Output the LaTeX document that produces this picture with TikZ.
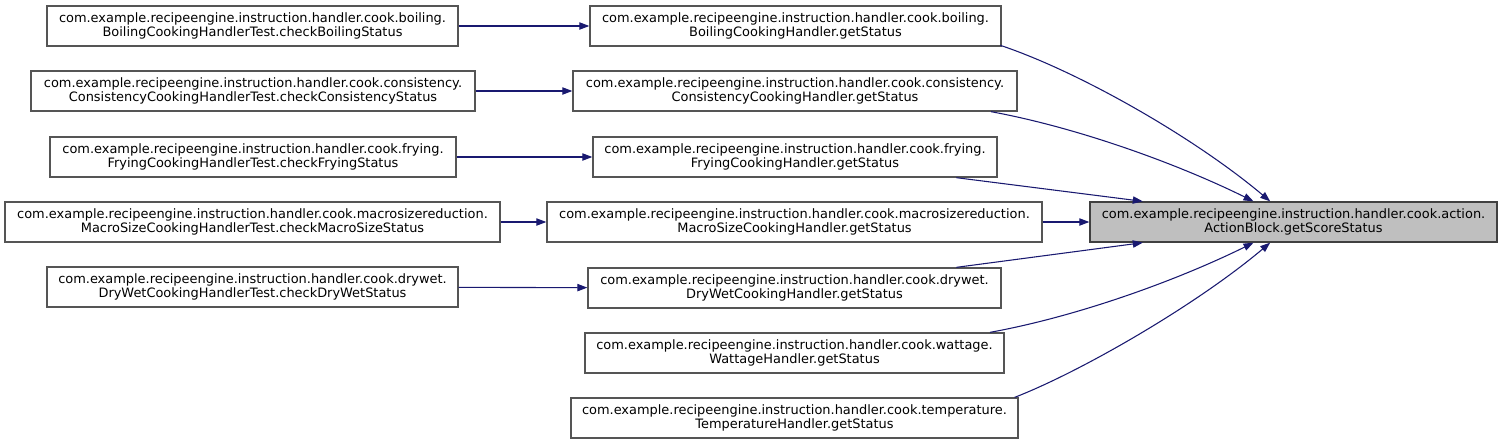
\documentclass[tikz,border=0pt]{standalone}
\usepackage{fontspec}
\setmainfont{DejaVu Sans}
\usetikzlibrary{arrows.meta}
\definecolor{edgecol}{HTML}{191970}
\definecolor{boxline}{HTML}{555555}
\definecolor{rootline}{HTML}{404040}
\definecolor{rootfill}{HTML}{BFBFBF}
\begin{document}
\begin{tikzpicture}[x=0.75pt,y=-0.75pt,
  box/.style={draw=boxline,line width=1pt,fill=white,minimum height=30pt,inner sep=0pt,align=center,
    font=\fontsize{9.7}{10.5}\selectfont},
  rootbox/.style={box,draw=rootline,fill=rootfill},
  edge/.style={draw=edgecol,line width=0.8pt,-{Triangle[length=7.5pt,width=5.5pt]}}]
\useasboundingbox (0,0) rectangle (1503,444);
% left column
\node[box,minimum width=411*0.75pt] (L1) at (252.5,26) {com.example.recipeengine.instruction.handler.cook.boiling.\\BoilingCookingHandlerTest.checkBoilingStatus};
\node[box,minimum width=444*0.75pt] (L2) at (253,91) {com.example.recipeengine.instruction.handler.cook.consistency.\\ConsistencyCookingHandlerTest.checkConsistencyStatus};
\node[box,minimum width=406*0.75pt] (L3) at (253,157) {com.example.recipeengine.instruction.handler.cook.frying.\\FryingCookingHandlerTest.checkFryingStatus};
\node[box,minimum width=495*0.75pt] (L4) at (252.5,222) {com.example.recipeengine.instruction.handler.cook.macrosizereduction.\\MacroSizeCookingHandlerTest.checkMacroSizeStatus};
\node[box,minimum width=411*0.75pt] (L5) at (252.5,287) {com.example.recipeengine.instruction.handler.cook.drywet.\\DryWetCookingHandlerTest.checkDryWetStatus};
% middle column
\node[box,minimum width=411*0.75pt] (M1) at (795.5,26) {com.example.recipeengine.instruction.handler.cook.boiling.\\BoilingCookingHandler.getStatus};
\node[box,minimum width=444*0.75pt] (M2) at (795,91) {com.example.recipeengine.instruction.handler.cook.consistency.\\ConsistencyCookingHandler.getStatus};
\node[box,minimum width=404*0.75pt] (M3) at (795,157) {com.example.recipeengine.instruction.handler.cook.frying.\\FryingCookingHandler.getStatus};
\node[box,minimum width=495*0.75pt] (M4) at (794.5,222) {com.example.recipeengine.instruction.handler.cook.macrosizereduction.\\MacroSizeCookingHandler.getStatus};
\node[box,minimum width=413*0.75pt] (M5) at (794.5,288) {com.example.recipeengine.instruction.handler.cook.drywet.\\DryWetCookingHandler.getStatus};
\node[box,minimum width=419*0.75pt] (M6) at (794.5,353) {com.example.recipeengine.instruction.handler.cook.wattage.\\WattageHandler.getStatus};
\node[box,minimum width=447*0.75pt] (M7) at (794.5,418) {com.example.recipeengine.instruction.handler.cook.temperature.\\TemperatureHandler.getStatus};
% root
\node[rootbox,minimum width=407*0.75pt] (A) at (1293.5,222) {com.example.recipeengine.instruction.handler.cook.action.\\ActionBlock.getScoreStatus};
% left edges
\draw[edge] (L1) -- (M1);
\draw[edge] (L2) -- (M2);
\draw[edge] (L3) -- (M3);
\draw[edge] (L4) -- (M4);
\draw[edge] (L5) -- (M5);
% edges to root
\draw[edge] ([xshift=-1pt,yshift=1pt]M1.south east) .. controls (1080,72) and (1195,138) .. ([xshift=-17.5pt]A.north);
\draw[edge] ([xshift=-20pt]M2.south east) .. controls (1080,128) and (1180,165) .. ([xshift=-30pt]A.north);
\draw[edge] ([xshift=-31pt]M3.south east) -- ([xshift=-113pt]A.north);
\draw[edge] (M4) -- (A);
\draw[edge] ([xshift=-34pt]M5.north east) -- ([xshift=-113pt]A.south);
\draw[edge] ([xshift=-11pt]M6.north east) .. controls (1080,316) and (1180,279) .. ([xshift=-30pt]A.south);
\draw[edge] ([xshift=-3pt]M7.north east) .. controls (1080,372) and (1195,306) .. ([xshift=-17.5pt]A.south);
\end{tikzpicture}
\end{document}
